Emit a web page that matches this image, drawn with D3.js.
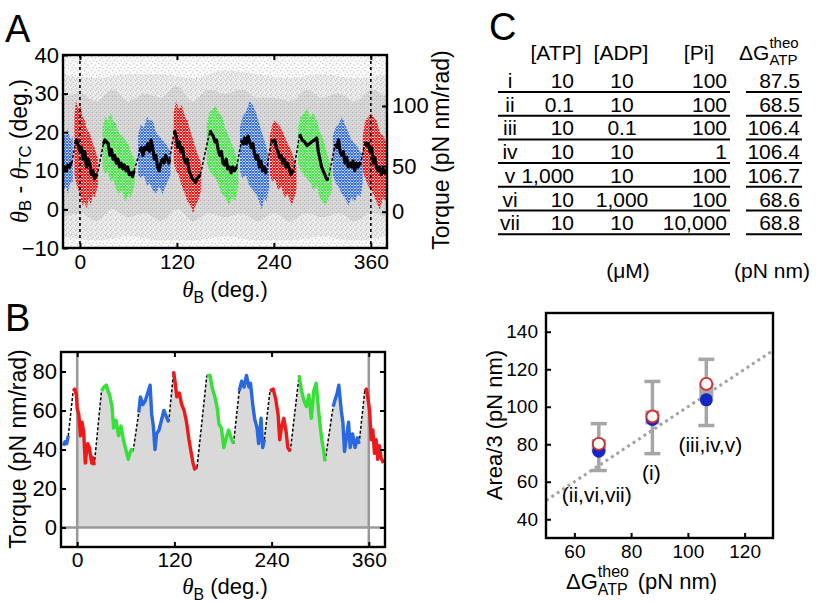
<!DOCTYPE html>
<html><head><meta charset="utf-8">
<script src="https://cdn.jsdelivr.net/npm/d3@7"></script>
<style>body{margin:0;background:#fff}svg{display:block}</style>
</head><body><svg id="c" width="816" height="604"></svg>
<script>
// ---------------- DATA ----------------
const thetaTicks = [0, 120, 240, 360];
const angleTicks = [-10, 0, 10, 20, 30, 40];
const torqueTicksA = [0, 50, 100];
const torqueTickAngles = [-0.6, 11.2, 26.8]; // angle (deg.) where each torque tick sits
const torqueTicksB = [0, 20, 40, 60, 80];
const segColors = ['blue','red','green','blue','red','green','blue','red','green','blue','red'];

// Panel A: black trace of theta_B - theta_TC (deg.) per segment, [thetaB, value]
const traceA = [
 [[-21,10],[-19,11],[-17,10],[-15,11.5],[-13,11],[-11,12],[-10,12]],
 [[-6,17],[-4,18],[-2,16.5],[0,15],[2,16],[4,13],[6,15],[8,11],[10,13],[12,12],[14,9],[16,10],[18,8],[20,9],[21,8.5]],
 [[29,17],[31,18],[33,17.5],[35,17],[37,14],[39,15.5],[41,13],[43,14],[45,12],[47,13],[49,11],[51,12],[53,10.5],[55,11.5],[57,10],[59,11],[61,9],[63,9.5],[65,8.5],[67,10]],
 [[74,15],[76,16],[78,14],[80,16],[82,15.5],[84,17],[86,15],[88,18],[90,16],[92,13],[94,14],[96,11],[98,10],[100,12],[102,13],[104,12],[106,14],[108,13],[110,12],[111,13]],
 [[117,20.5],[119,19],[121,16],[123,17.5],[125,15],[127,16],[129,13],[131,12],[133,13],[135,10],[137,9],[139,8],[141,7.5],[143,7],[145,8],[147,8.5],[149,9]],
 [[161,20.5],[163,19.5],[165,19],[167,17.5],[169,18],[171,15.5],[173,14],[175,15],[177,12],[179,11.5],[181,13],[183,10.5],[185,11],[187,9.5],[189,11],[191,10],[194,11]],
 [[200,18],[202,17],[204,18.5],[206,17],[208,19],[210,17.5],[212,16],[214,17],[216,14.5],[218,13],[220,14],[222,11],[224,12.5],[226,10],[228,11],[230,9.5],[231,10]],
 [[237,18],[239,17.5],[241,18],[243,16],[245,15],[247,13.5],[249,14],[251,12],[253,13],[255,11],[257,12],[259,10.5],[261,9],[263,10],[264,9.5]],
 [[272,19.5],[275,18],[278,17.5],[281,16.5],[284,17],[287,17.5],[290,18],[293,18.5],[295,15],[297,13],[299,11],[301,10],[303,9],[305,8],[307,7.5]],
 [[316,17],[318,16],[320,18],[322,15],[324,14],[326,15],[328,12],[330,13.5],[332,11],[334,12],[336,11],[338,12.5],[340,10],[342,12],[344,11],[346,12],[347,11.5]],
 [[353,17.5],[355,16.5],[357,17],[359,15],[361,16],[363,12],[365,13.5],[367,11],[369,10],[371,11],[373,9],[375,10.5],[377,9.5],[380,10]]
];
// Panel A: coloured point clouds, [thetaB, low, high]
const cloudA = [
 [[-21,5,20],[-17,6,19],[-15,4,21],[-12,7,18],[-9,7,19]],
 [[-7,9,24],[-5,7,28],[-2,5,26],[1,3,27],[3,1,24],[6,2,23],[8,0,21],[11,3,20],[13,1,19],[16,4,17],[18,3,16],[22,6,13]],
 [[28,11,21],[31,9,24],[34,10,23],[38,7,25],[41,8,23],[45,5,22],[48,4,20],[52,5,19],[56,2,18],[60,4,17],[63,3,15],[68,7,13]],
 [[72,9,19],[75,8,22],[79,9,21],[83,6,24],[86,7,23],[90,5,23],[94,4,20],[98,6,19],[102,4,18],[106,6,17],[112,9,15]],
 [[116,12,25],[119,10,28],[122,9,26],[126,6,27],[130,4,24],[133,2,23],[137,1,20],[140,-1,18],[143,1,16],[146,2,14],[150,5,12]],
 [[157,12,22],[160,10,25],[164,9,26],[168,8,27],[172,6,25],[176,4,24],[180,3,21],[184,1,19],[188,3,17],[192,2,15],[196,6,12]],
 [[198,10,21],[201,8,24],[205,9,25],[210,6,28],[214,5,27],[218,4,25],[222,2,22],[225,0,20],[228,3,18],[231,2,16],[234,6,13]],
 [[235,9,19],[238,7,22],[241,8,23],[245,5,22],[249,6,21],[253,3,19],[257,4,17],[262,1,15],[265,3,13],[268,5,11]],
 [[270,12,21],[273,10,24],[277,9,25],[281,8,26],[285,7,24],[289,5,25],[293,6,23],[297,3,20],[300,2,19],[304,1,16],[308,3,13],[312,5,10]],
 [[313,9,19],[316,7,21],[320,6,22],[324,4,24],[328,3,22],[332,1,20],[336,3,18],[340,2,17],[344,4,16],[347,3,15],[350,7,14]],
 [[350,10,19],[353,8,23],[357,6,24],[360,5,25],[363,4,24],[367,2,23],[371,0,20],[375,3,19],[380,2,17]]
];
// Panel A: grey cloud, dense core and outer halo, [thetaB, low, high]
const grayCore = [[-21,-2,29],[0,-1,30],[20,-3,28],[40,0,31],[60,-2,28],[80,-1,30],[100,-3,29],[120,0,32],
 [140,-3,28],[160,-1,31],[180,-2,30],[200,-1,31],[220,-3,29],[240,-1,29],[260,-3,28],[280,-1,31],[300,-2,29],
 [320,-1,30],[340,-3,28],[360,-1,31],[380,-2,29]];
const grayHalo = [[-21,-7,35],[20,-8,34],[60,-7,35],[100,-8,35],[140,-8,34],[180,-7,36],[220,-8,35],[260,-8,34],
 [300,-7,35],[340,-8,34],[380,-7,35]];

// Panel B: torque (pN nm/rad) per segment, [thetaB, torque]
const traceB = [
 [[-17,42],[-15,44],[-13,43],[-11,47]],
 [[-5,70],[-3,71],[-1,68],[0,61],[2,58],[4,47],[6,54],[8,49],[10,33],[11,37],[13,43],[15,41],[16,38],[18,33],[19,36],[21,32]],
 [[30,70],[33,72],[36,73],[38,70],[40,68],[43,62],[45,51],[48,55],[51,47],[54,52],[57,45],[60,40],[63,35],[65,38],[67,40],[69,39]],
 [[76,59],[78,67],[81,63],[84,65],[87,69],[90,73],[92,58],[94,52],[96,40],[98,48],[101,50],[104,55],[107,60],[110,57],[113,54]],
 [[119,80],[121,74],[123,67],[126,69],[129,63],[132,60],[135,54],[138,45],[140,40],[143,33],[145,30],[148,31]],
 [[160,78],[164,78],[167,71],[170,67],[173,61],[175,53],[178,51],[181,41],[184,46],[187,50],[190,46],[193,43]],
 [[200,70],[203,75],[206,72],[209,78],[212,72],[214,74],[217,62],[219,56],[222,51],[224,43],[227,56],[229,41],[231,45]],
 [[238,70],[242,71],[245,66],[248,58],[250,45],[252,51],[255,56],[258,49],[260,41],[263,39]],
 [[274,78],[277,70],[280,65],[283,62],[286,68],[289,56],[292,70],[295,74],[298,60],[300,52],[302,45],[304,40],[306,34]],
 [[316,62],[318,65],[321,69],[323,73],[326,60],[328,54],[330,39],[333,48],[335,54],[337,41],[340,48],[343,41],[346,46],[348,43]],
 [[355,70],[357,71],[359,66],[361,60],[363,45],[365,50],[367,38],[369,45],[371,35],[373,42],[375,36],[378,33]]
];

// Panel C table
const rowLabels = ['i','ii','iii','iv','v','vi','vii'];
const atpConc = ['10','0.1','10','10','1,000','10','10'];
const adpConc = ['10','10','0.1','10','10','1,000','10'];
const piConc  = ['100','100','100','1','100','100','10,000'];
const dGtheo  = ['87.5','68.5','106.4','106.4','106.7','68.6','68.8'];

// Panel C scatter
const xTicksC = [60, 80, 100, 120];
const yTicksC = [40, 60, 80, 100, 120, 140];
const groupLabels = ['(ii,vi,vii)', '(i)', '(iii,iv,v)'];
const groupDG = [68.6, 87.5, 106.5];
const areaMean = [79, 94.3, 108.5];
const areaLow  = [66, 75, 90];
const areaHigh = [91, 113.5, 125.3];
const blueArea = [76.3, 93.2, 103.7];
const redArea  = [80.2, 94.8, 112.2];
const unityLine = [[50, 50], [130, 130]];

// ---------------- STYLE / LAYOUT ----------------
const FONT = '"Liberation Sans", Arial, Helvetica, sans-serif';
const SERIF = '"Liberation Serif", "DejaVu Serif", serif';
const colA = {red:'#ff0d0d', green:'#3ef03e', blue:'#2f6fe8'};
const colB = {red:'#f01818', green:'#36e036', blue:'#2a68e2'};
const svg = d3.select('#c').attr('font-family', FONT);
const defs = svg.append('defs');

function pattern(id, size, dots, color, bg){
  const p = defs.append('pattern').attr('id', id).attr('width', size).attr('height', size).attr('patternUnits','userSpaceOnUse');
  if (bg) p.append('rect').attr('width', size).attr('height', size).attr('fill', bg);
  dots.forEach(d => p.append('rect').attr('x', d[0]).attr('y', d[1]).attr('width', d[2]).attr('height', d[3]).attr('fill', color));
}
pattern('gSparse', 7, [[0,0,1.2,1.2],[3.5,1.5,1.2,1.2],[1.5,4,1.2,1.2],[5,5,1,1]], '#c4c4c4', '#fafafa');
pattern('gHalo', 5, [[0,0,1.3,1.3],[2.5,1.5,1.3,1.3],[1,3.2,1.3,1.3],[3.8,3.8,1,1]], '#bebebe', '#f0f0f0');
pattern('gDense', 4, [[0,0,1.5,1.5],[2,2,1.5,1.5],[2.6,0.2,1,1],[0.4,2.8,1,1]], '#bababa', '#e4e4e4');
Object.keys(colA).forEach(k => pattern('c_'+k, 3, [[0,0,2,2],[2,2,1,1],[2.2,0.4,0.8,0.8]], colA[k], null));

function rich(sel, parts, fs){
  let shift = 0;
  parts.forEach(p => {
    const target = p.sub ? fs*0.25 : 0;
    const ts = sel.append('tspan').text(p.t).attr('dy', target - shift);
    shift = target;
    if (p.sub) ts.attr('font-size', fs*0.72);
    if (p.it) ts.attr('font-style','italic').attr('font-family', SERIF).attr('font-size', fs*1.05);
  });
}
function styleAxis(a, fs){
  a.select('.domain').remove();
  a.selectAll('line').attr('stroke','#000').attr('stroke-width',2);
  a.selectAll('text').attr('font-size',fs).attr('font-family',FONT).attr('fill','#000');
}
function frame(g, b){
  g.append('rect').attr('x',b.x0).attr('y',b.y0).attr('width',b.x1-b.x0).attr('height',b.y1-b.y0)
   .attr('fill','none').attr('stroke','#000').attr('stroke-width',2.4);
}
function letter(t, x, y){ svg.append('text').attr('x',x).attr('y',y).attr('font-size',38).text(t); }
function deltaG(sel, fs, sfs){
  sel.append('tspan').text('ΔG');
  const sup = sel.append('tspan').text('theo').attr('font-size',sfs).attr('dy',-fs*0.55);
  const len = sup.node().getComputedTextLength();
  sel.append('tspan').text('ATP').attr('font-size',sfs).attr('dy',fs*0.8).attr('dx',-len);
  return fs*0.25;
}

// ---------------- PANEL A ----------------
const A = {x0:63, x1:387, y0:55, y1:248};
const xA = d3.scaleLinear().domain([-21,380]).range([A.x0,A.x1]);
const yA = d3.scaleLinear().domain([-10,40]).range([A.y1,A.y0]);
const tA = d3.scaleLinear().domain(torqueTicksA).range(torqueTickAngles.map(yA));
const gA = svg.append('g');
defs.append('clipPath').attr('id','clipA').append('rect').attr('x',A.x0).attr('y',A.y0).attr('width',A.x1-A.x0).attr('height',A.y1-A.y0);
const pA = gA.append('g').attr('clip-path','url(#clipA)');
pA.append('rect').attr('x',A.x0).attr('y',A.y0).attr('width',A.x1-A.x0).attr('height',A.y1-A.y0).attr('fill','url(#gSparse)');
const bandA = d3.area().x(d=>xA(d[0])).y0(d=>yA(d[1])).y1(d=>yA(d[2])).curve(d3.curveMonotoneX);
pA.append('path').datum(grayHalo).attr('d',bandA).attr('fill','url(#gHalo)');
pA.append('path').datum(grayCore).attr('d',bandA).attr('fill','url(#gDense)');
cloudA.forEach((c,i) => pA.append('path').datum(c).attr('d', d3.area().x(d=>xA(d[0])).y0(d=>yA(d[1])).y1(d=>yA(d[2])).curve(d3.curveLinear)).attr('fill','url(#c_'+segColors[i]+')'));
[0,360].forEach(v => pA.append('line').attr('x1',xA(v)).attr('x2',xA(v)).attr('y1',A.y0).attr('y2',A.y1)
   .attr('stroke','#000').attr('stroke-width',1.6).attr('stroke-dasharray','3,3'));
const lineA = d3.line().x(d=>xA(d[0])).y(d=>yA(d[1]));
for (let i=0;i<traceA.length-1;i++){
  pA.append('path').datum([traceA[i][traceA[i].length-1], traceA[i+1][0]]).attr('d',lineA)
    .attr('fill','none').attr('stroke','#000').attr('stroke-width',1.5).attr('stroke-dasharray','3,2');
}
traceA.forEach(s => pA.append('path').datum(s).attr('d',lineA).attr('fill','none').attr('stroke','#000').attr('stroke-width',3.2).attr('stroke-linejoin','round'));
frame(gA, A);
styleAxis(gA.append('g').attr('transform',`translate(${A.x0},0)`).call(d3.axisLeft(yA).tickValues(angleTicks).tickSize(-5).tickPadding(4)), 22);
styleAxis(gA.append('g').attr('transform',`translate(0,${A.y1})`).call(d3.axisBottom(xA).tickValues(thetaTicks).tickSize(-5).tickPadding(6)), 21);
styleAxis(gA.append('g').attr('transform',`translate(0,${A.y0})`).call(d3.axisTop(xA).tickValues(thetaTicks).tickSize(-5).tickFormat('')), 22);
styleAxis(gA.append('g').attr('transform',`translate(${A.x1},0)`).call(d3.axisRight(tA).tickValues(torqueTicksA).tickSize(-5).tickPadding(5)), 22);
rich(gA.append('text').attr('transform','translate(19,151) rotate(-90)').attr('text-anchor','middle').attr('dominant-baseline','central').attr('font-size',23),
  [{t:'θ',it:1},{t:'B',sub:1},{t:' - '},{t:'θ',it:1},{t:'TC',sub:1},{t:' (deg.)'}], 23);
rich(gA.append('text').attr('x',225).attr('y',297).attr('text-anchor','middle').attr('font-size',22),
  [{t:'θ',it:1},{t:'B',sub:1},{t:' (deg.)'}], 22);
gA.append('text').attr('transform','translate(441,150) rotate(-90)').attr('text-anchor','middle').attr('dominant-baseline','central').attr('font-size',23).text('Torque (pN nm/rad)');
letter('A', 5, 42);

// ---------------- PANEL B ----------------
const B = {x0:61, x1:385, y0:352, y1:547};
const xB = d3.scaleLinear().domain([-20,380]).range([B.x0,B.x1]);
const yB = d3.scaleLinear().domain([-10,90]).range([B.y1,B.y0]);
const gB = svg.append('g');
defs.append('clipPath').attr('id','clipB').append('rect').attr('x',B.x0).attr('y',B.y0).attr('width',B.x1-B.x0).attr('height',B.y1-B.y0);
defs.append('clipPath').attr('id','clipB360').append('rect').attr('x',xB(0)).attr('y',B.y0).attr('width',xB(360)-xB(0)).attr('height',B.y1-B.y0);
const pB = gB.append('g').attr('clip-path','url(#clipB)');
const allB = traceB.flat();
pB.append('path').datum(allB).attr('clip-path','url(#clipB360)')
  .attr('d', d3.area().x(d=>xB(d[0])).y0(yB(0)).y1(d=>yB(d[1]))).attr('fill','#d9d9d9');
pB.append('line').attr('x1',B.x0).attr('x2',B.x1).attr('y1',yB(0)).attr('y2',yB(0)).attr('stroke','#999').attr('stroke-width',2.5);
[0,360].forEach(v => pB.append('line').attr('x1',xB(v)).attr('x2',xB(v)).attr('y1',B.y0).attr('y2',B.y1).attr('stroke','#999').attr('stroke-width',2.5));
const lineB = d3.line().x(d=>xB(d[0])).y(d=>yB(d[1]));
for (let i=0;i<traceB.length-1;i++){
  pB.append('path').datum([traceB[i][traceB[i].length-1], traceB[i+1][0]]).attr('d',lineB)
    .attr('fill','none').attr('stroke','#000').attr('stroke-width',1.5).attr('stroke-dasharray','3,2');
}
traceB.forEach((s,i) => pB.append('path').datum(s).attr('d',lineB).attr('fill','none').attr('stroke',colB[segColors[i]]).attr('stroke-width',3.4).attr('stroke-linejoin','round'));
frame(gB, B);
styleAxis(gB.append('g').attr('transform',`translate(${B.x0},0)`).call(d3.axisLeft(yB).tickValues(torqueTicksB).tickSize(-5).tickPadding(4)), 22);
styleAxis(gB.append('g').attr('transform',`translate(${B.x1},0)`).call(d3.axisRight(yB).tickValues(torqueTicksB).tickSize(-5).tickFormat('')), 22);
styleAxis(gB.append('g').attr('transform',`translate(0,${B.y1})`).call(d3.axisBottom(xB).tickValues(thetaTicks).tickSize(-5).tickPadding(5)), 21);
styleAxis(gB.append('g').attr('transform',`translate(0,${B.y0})`).call(d3.axisTop(xB).tickValues(thetaTicks).tickSize(-5).tickFormat('')), 22);
gB.append('text').attr('transform','translate(18,449) rotate(-90)').attr('text-anchor','middle').attr('dominant-baseline','central').attr('font-size',23).text('Torque (pN nm/rad)');
rich(gB.append('text').attr('x',225).attr('y',594).attr('text-anchor','middle').attr('font-size',22),
  [{t:'θ',it:1},{t:'B',sub:1},{t:' (deg.)'}], 22);
letter('B', 5, 331);

// ---------------- PANEL C TABLE ----------------
const gT = svg.append('g').attr('font-size',21);
letter('C', 489, 40);
const hdrY = 60, row0 = 88, pitch = 23.7;
gT.append('text').attr('x',556).attr('y',hdrY).attr('text-anchor','middle').text('[ATP]');
gT.append('text').attr('x',621).attr('y',hdrY).attr('text-anchor','middle').text('[ADP]');
gT.append('text').attr('x',699).attr('y',hdrY).attr('text-anchor','middle').text('[Pi]');
deltaG(gT.append('text').attr('x',739).attr('y',hdrY), 21, 15);
rowLabels.forEach((r,k) => {
  const y = row0 + pitch*k;
  gT.append('text').attr('x',510).attr('y',y).attr('text-anchor','middle').text(r);
  gT.append('text').attr('x',574).attr('y',y).attr('text-anchor','end').text(atpConc[k]);
  gT.append('text').attr('x',622).attr('y',y).attr('text-anchor','middle').text(adpConc[k]);
  gT.append('text').attr('x',727).attr('y',y).attr('text-anchor','end').text(piConc[k]);
  gT.append('text').attr('x',800).attr('y',y).attr('text-anchor','end').text(dGtheo[k]);
  gT.append('line').attr('x1',498).attr('x2',730).attr('y1',y+4).attr('y2',y+4).attr('stroke','#000').attr('stroke-width',2);
  gT.append('line').attr('x1',746).attr('x2',802).attr('y1',y+4).attr('y2',y+4).attr('stroke','#000').attr('stroke-width',2);
});
gT.append('text').attr('x',628).attr('y',278).attr('text-anchor','middle').text('(μM)');
gT.append('text').attr('x',772).attr('y',278).attr('text-anchor','middle').text('(pN nm)');

// ---------------- PANEL C SCATTER ----------------
const S = {x0:546, x1:773, y0:313, y1:538};
const xS = d3.scaleLinear().domain([50,130]).range([S.x0,S.x1]);
const yS = d3.scaleLinear().domain([30,150]).range([S.y1,S.y0]);
const gS = svg.append('g');
gS.append('path').datum(unityLine).attr('d', d3.line().x(d=>xS(d[0])).y(d=>yS(d[1])))
  .attr('stroke','#a3a3a3').attr('stroke-width',3).attr('stroke-dasharray','3,3.5').attr('fill','none');
groupDG.forEach((g,i) => {
  const x = xS(g);
  gS.append('line').attr('x1',x).attr('x2',x).attr('y1',yS(areaLow[i])).attr('y2',yS(areaHigh[i])).attr('stroke','#a6a6a6').attr('stroke-width',3.5);
  [areaLow[i], areaHigh[i]].forEach(v => gS.append('line').attr('x1',x-8).attr('x2',x+8).attr('y1',yS(v)).attr('y2',yS(v)).attr('stroke','#a6a6a6').attr('stroke-width',3.5));
  gS.append('rect').attr('x',x-7).attr('y',yS(areaMean[i])-7).attr('width',14).attr('height',14).attr('fill','#a6a6a6');
  gS.append('circle').attr('cx',x).attr('cy',yS(blueArea[i])).attr('r',6.5).attr('fill','#1426c4');
  gS.append('circle').attr('cx',x).attr('cy',yS(redArea[i])).attr('r',6).attr('fill','#fff').attr('stroke','#d42a2a').attr('stroke-width',1.8);
});
const labelDx = [-2, -1, 4], labelDy = [31, 26, 26];
groupLabels.forEach((t,i) => gS.append('text').attr('x',xS(groupDG[i])+labelDx[i]).attr('y',yS(areaLow[i])+labelDy[i])
  .attr('text-anchor','middle').attr('font-size',21).text(t));
frame(gS, S);
styleAxis(gS.append('g').attr('transform',`translate(${S.x0},0)`).call(d3.axisLeft(yS).tickValues(yTicksC).tickSize(-5).tickPadding(8)), 19);
styleAxis(gS.append('g').attr('transform',`translate(0,${S.y1})`).call(d3.axisBottom(xS).tickValues(xTicksC).tickSize(-5).tickPadding(7)), 19);
gS.append('text').attr('transform','translate(494,425) rotate(-90)').attr('text-anchor','middle').attr('dominant-baseline','central').attr('font-size',22).text('Area/3 (pN nm)');
const xl = gS.append('text').attr('x',566).attr('y',589).attr('font-size',22);
const back = deltaG(xl, 22, 16);
xl.append('tspan').text('(pN nm)').attr('dy',-back).attr('dx',10);
</script></body></html>
